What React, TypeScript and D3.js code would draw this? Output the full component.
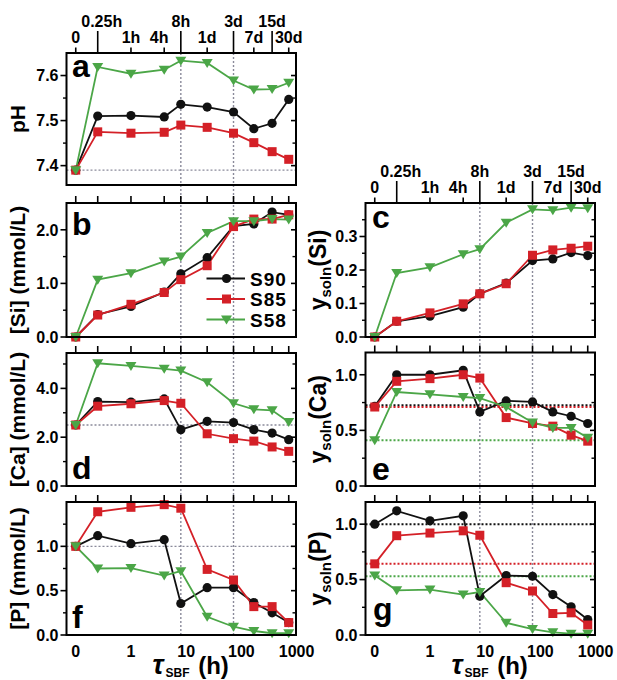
import React from "react";
import * as d3 from "d3";

// ---------- DATA ----------
const TIMES_H = [0, 0.25, 1, 4, 8, 24, 72, 168, 360, 720];
const SERIES_NAMES = ["S90", "S85", "S58"];

const PH_S90 = [7.39, 7.51, 7.511, 7.508, 7.536, 7.53, 7.519, 7.482, 7.494, 7.547];
const PH_S85 = [7.39, 7.475, 7.472, 7.474, 7.49, 7.485, 7.472, 7.451, 7.431, 7.414];
const PH_S58 = [7.39, 7.619, 7.604, 7.613, 7.633, 7.628, 7.589, 7.569, 7.57, 7.584];

const SI_S90 = [0, 0.42, 0.57, 0.84, 1.18, 1.48, 2.07, 2.11, 2.33, 2.28];
const SI_S85 = [0, 0.41, 0.61, 0.83, 1.07, 1.33, 2.06, 2.2, 2.2, 2.28];
const SI_S58 = [0, 1.07, 1.19, 1.41, 1.5, 1.94, 2.16, 2.16, 2.2, 2.19];

const CA_S90 = [2.5, 3.46, 3.44, 3.57, 2.31, 2.65, 2.6, 2.31, 2.17, 1.9];
const CA_S85 = [2.5, 3.27, 3.37, 3.5, 3.39, 2.14, 1.94, 1.84, 1.6, 1.42];
const CA_S58 = [2.5, 5.03, 4.92, 4.8, 4.73, 4.25, 3.39, 3.14, 3.1, 2.62];

const P_S90 = [1.0, 1.12, 1.03, 1.075, 0.355, 0.534, 0.534, 0.366, 0.25, 0.14];
const P_S85 = [1.0, 1.39, 1.44, 1.47, 1.43, 0.74, 0.62, 0.32, 0.32, 0.14];
const P_S58 = [1.0, 0.75, 0.755, 0.67, 0.72, 0.205, 0.093, 0.045, 0.02, 0.02];

const YSI_S90 = [0, 0.047, 0.062, 0.089, 0.129, 0.161, 0.228, 0.233, 0.252, 0.243];
const YSI_S85 = [0, 0.047, 0.072, 0.099, 0.129, 0.159, 0.244, 0.26, 0.265, 0.271];
const YSI_S58 = [0, 0.191, 0.208, 0.247, 0.262, 0.341, 0.381, 0.378, 0.386, 0.384];

const YCA_S90 = [0.717, 1.0, 1.0, 1.04, 0.666, 0.765, 0.756, 0.666, 0.627, 0.562];
const YCA_S85 = [0.71, 0.941, 0.965, 1.0, 0.97, 0.615, 0.562, 0.538, 0.457, 0.403];
const YCA_S58 = [0.412, 0.845, 0.824, 0.8, 0.79, 0.71, 0.571, 0.522, 0.522, 0.433];

const YP_S90 = [1.0, 1.12, 1.03, 1.075, 0.35, 0.537, 0.53, 0.365, 0.254, 0.14];
const YP_S85 = [0.642, 0.896, 0.92, 0.94, 0.9, 0.472, 0.397, 0.194, 0.2, 0.09];
const YP_S58 = [0.537, 0.403, 0.41, 0.365, 0.388, 0.11, 0.054, 0.024, 0.012, 0.012];

const REF_PH = [7.39];
const REF_CA = [2.5];
const REF_P = [1.0];
const REF_YCA = [0.726, 0.71, 0.412];
const REF_YP = [1.0, 0.642, 0.53];

const MARK_TIMES = [8, 72];

const TOP_ROW1 = [
  { t: 0.25, label: "0.25h" },
  { t: 8, label: "8h" },
  { t: 72, label: "3d" },
  { t: 360, label: "15d" },
];
const TOP_ROW2 = [
  { t: 0, label: "0" },
  { t: 1, label: "1h" },
  { t: 4, label: "4h" },
  { t: 24, label: "1d" },
  { t: 168, label: "7d" },
  { t: 720, label: "30d" },
];
const BOTTOM_TICKS = [0, 1, 10, 100, 1000];

// ---------- STYLE ----------
const FONT = "'Liberation Sans', Arial, Helvetica, sans-serif";
const COLORS = ["#111111", "#d42027", "#4ba647"];
const GREY = "#8a8a9a";
const LABEL_DX: Record<string, number> = { "0.25h": 4, "4h": -5 };

const COLS: Record<string, [number, number]> = {
  L: [66.5, 296],
  R: [365.5, 595],
};

const tPos = (t: number) => (t === 0 ? 0.1 : t);

function makeX(col: string) {
  return d3.scaleLog().domain([0.068, 975]).range(COLS[col]);
}

type Panel = {
  key: string;
  col: string;
  y0: number;
  y1: number;
  domain: [number, number];
  major: number[];
  minor: number[];
  series: number[][];
  refs: number[];
  refColored: boolean;
  title: React.ReactNode;
  letter: string;
  letterPos: [number, number];
  topAxis: boolean;
  bottomAxis: boolean;
  legend?: boolean;
};

const PANELS: Panel[] = [
  {
    key: "a", col: "L", y0: 53, y1: 185, domain: [7.357, 7.65],
    major: [7.4, 7.5, 7.6], minor: [7.45, 7.55],
    series: [PH_S90, PH_S85, PH_S58], refs: REF_PH, refColored: false,
    title: "pH", letter: "a", letterPos: [72, 77], topAxis: true, bottomAxis: false,
  },
  {
    key: "b", col: "L", y0: 203, y1: 337, domain: [0, 2.5],
    major: [0, 1, 2], minor: [0.5, 1.5],
    series: [SI_S90, SI_S85, SI_S58], refs: [], refColored: false,
    title: "[Si] (mmol/L)", letter: "b", letterPos: [72, 235], topAxis: false, bottomAxis: false, legend: true,
  },
  {
    key: "d", col: "L", y0: 353, y1: 486, domain: [0, 5.45],
    major: [0, 2, 4], minor: [1, 3, 5],
    series: [CA_S90, CA_S85, CA_S58], refs: REF_CA, refColored: false,
    title: "[Ca] (mmol/L)", letter: "d", letterPos: [72, 479], topAxis: false, bottomAxis: false,
  },
  {
    key: "f", col: "L", y0: 502, y1: 635, domain: [0, 1.5],
    major: [0, 0.5, 1], minor: [0.25, 0.75, 1.25],
    series: [P_S90, P_S85, P_S58], refs: REF_P, refColored: false,
    title: "[P] (mmol/L)", letter: "f", letterPos: [72, 628], topAxis: false, bottomAxis: true,
  },
  {
    key: "c", col: "R", y0: 203, y1: 337, domain: [0, 0.4],
    major: [0, 0.1, 0.2, 0.3], minor: [0.05, 0.15, 0.25, 0.35],
    series: [YSI_S90, YSI_S85, YSI_S58], refs: [], refColored: false,
    title: "Si", letter: "c", letterPos: [372, 228], topAxis: true, bottomAxis: false,
  },
  {
    key: "e", col: "R", y0: 352.5, y1: 486, domain: [0, 1.2],
    major: [0, 0.5, 1], minor: [0.25, 0.75],
    series: [YCA_S90, YCA_S85, YCA_S58], refs: REF_YCA, refColored: true,
    title: "Ca", letter: "e", letterPos: [372, 480], topAxis: false, bottomAxis: false,
  },
  {
    key: "g", col: "R", y0: 502, y1: 635, domain: [0, 1.2],
    major: [0, 0.5, 1], minor: [0.25, 0.75],
    series: [YP_S90, YP_S85, YP_S58], refs: REF_YP, refColored: true,
    title: "P", letter: "g", letterPos: [373, 620], topAxis: false, bottomAxis: true,
  },
];

function Marker({ i, x, y }: { i: number; x: number; y: number }) {
  const c = COLORS[i];
  if (i === 0) return <circle cx={x} cy={y} r={4.6} fill={c} />;
  if (i === 1) return <rect x={x - 4.5} y={y - 4.5} width={9} height={9} fill={c} />;
  return (
    <path
      d={`M${x - 5.5},${y - 4} L${x + 5.5},${y - 4} L${x},${y + 5} Z`}
      fill={c}
    />
  );
}

function PanelView({ p }: { p: Panel }) {
  const x = makeX(p.col);
  const [xl, xr] = COLS[p.col];
  const y = d3.scaleLinear().domain(p.domain).range([p.y1, p.y0]);
  const fmt = d3.format(".1f");
  const line = d3
    .line<number>()
    .x((_, i) => x(tPos(TIMES_H[i])))
    .y((v) => y(v));
  const midY = (p.y0 + p.y1) / 2;
  const isLeft = p.col === "L";

  return (
    <g>
      {p.refs.map((r, i) => (
        <line
          key={"ref" + i}
          x1={xl}
          x2={xr}
          y1={y(r)}
          y2={y(r)}
          stroke={p.refColored ? COLORS[i] : GREY}
          strokeWidth={p.refColored ? 2 : 1.4}
          strokeDasharray="2 2"
        />
      ))}
      {p.series.map((s, i) => (
        <path key={"l" + i} d={line(s) || ""} fill="none" stroke={COLORS[i]} strokeWidth={1.8} />
      ))}
      {p.series.map((s, i) => (
        <g key={"m" + i}>
          {s.map((v, j) => (
            <Marker key={j} i={i} x={x(tPos(TIMES_H[j]))} y={y(v)} />
          ))}
        </g>
      ))}
      <rect x={xl} y={p.y0} width={xr - xl} height={p.y1 - p.y0} fill="none" stroke="#000" strokeWidth={2} />
      {p.major.map((v) => (
        <g key={"mj" + v}>
          <line x1={xl - 6} x2={xl} y1={y(v)} y2={y(v)} stroke="#000" strokeWidth={1.6} />
          <line x1={xr - 5} x2={xr} y1={y(v)} y2={y(v)} stroke="#000" strokeWidth={1.6} />
          <text
            x={xl - 8}
            y={y(v) + 5.8}
            textAnchor="end"
            fontFamily={FONT}
            fontWeight="bold"
            fontSize={16}
          >
            {fmt(v)}
          </text>
        </g>
      ))}
      {p.minor.map((v) => (
        <g key={"mn" + v}>
          <line x1={xl - 3.5} x2={xl} y1={y(v)} y2={y(v)} stroke="#000" strokeWidth={1.4} />
          <line x1={xr - 3.5} x2={xr} y1={y(v)} y2={y(v)} stroke="#000" strokeWidth={1.4} />
        </g>
      ))}
      {p.topAxis ? (
        <g>
          {TOP_ROW1.map((d) => (
            <g key={"r1" + d.label}>
              <line x1={x(tPos(d.t))} x2={x(tPos(d.t))} y1={p.y0} y2={p.y0 - 22} stroke="#000" strokeWidth={1.6} />
              <text
                x={x(tPos(d.t)) + (LABEL_DX[d.label] || 0)}
                y={p.y0 - 26}
                textAnchor="middle"
                fontFamily={FONT}
                fontWeight="bold"
                fontSize={16}
              >
                {d.label}
              </text>
            </g>
          ))}
          {TOP_ROW2.map((d) => (
            <g key={"r2" + d.label}>
              <line x1={x(tPos(d.t))} x2={x(tPos(d.t))} y1={p.y0} y2={p.y0 - 5.5} stroke="#000" strokeWidth={1.6} />
              <text
                x={x(tPos(d.t)) + (LABEL_DX[d.label] || 0)}
                y={p.y0 - 10}
                textAnchor="middle"
                fontFamily={FONT}
                fontWeight="bold"
                fontSize={16}
              >
                {d.label}
              </text>
            </g>
          ))}
        </g>
      ) : (
        <g>
          {TIMES_H.map((t) => (
            <line key={"tt" + t} x1={x(tPos(t))} x2={x(tPos(t))} y1={p.y0} y2={p.y0 - 7} stroke="#000" strokeWidth={1.6} />
          ))}
        </g>
      )}
      {p.bottomAxis && (
        <g>
          {BOTTOM_TICKS.map((t) => (
            <text
              key={"bt" + t}
              x={x(tPos(t))}
              y={656.5}
              textAnchor="middle"
              fontFamily={FONT}
              fontWeight="bold"
              fontSize={16}
            >
              {String(t)}
            </text>
          ))}
          <text x={xl + 86} y={674} fontFamily={FONT} fontWeight="bold" fontSize={24}>
            <tspan fontStyle="italic" fontSize={27}>τ</tspan>
            <tspan fontSize={12} dx={2} dy={3}>SBF</tspan>
            <tspan dx={2} dy={-3}> (h)</tspan>
          </text>
        </g>
      )}
      <text x={p.letterPos[0]} y={p.letterPos[1]} fontFamily={FONT} fontWeight="bold" fontSize={32}>
        {p.letter}
      </text>
      {isLeft ? (
        <text
          transform={`translate(25,${midY}) rotate(-90)`}
          textAnchor="middle"
          fontFamily={FONT}
          fontWeight="bold"
          fontSize={21}
        >
          {p.title}
        </text>
      ) : (
        <text
          transform={`translate(326,${midY}) rotate(-90)`}
          textAnchor="middle"
          fontFamily={FONT}
          fontWeight="bold"
          fontSize={23}
        >
          <tspan>y</tspan>
          <tspan fontSize={15} dy={5}>soln</tspan>
          <tspan dy={-5}>({p.title})</tspan>
        </text>
      )}
      {p.legend &&
        SERIES_NAMES.map((name, i) => {
          const ly = 278.5 + i * 20.5;
          return (
            <g key={"lg" + name}>
              <line x1={206.5} x2={245} y1={ly} y2={ly} stroke={COLORS[i]} strokeWidth={1.8} />
              <Marker i={i} x={226.5} y={ly} />
              <text x={250} y={ly + 7} fontFamily={FONT} fontWeight="bold" fontSize={19} letterSpacing={1}>
                {name}
              </text>
            </g>
          );
        })}
    </g>
  );
}

export default function App() {
  const xL = makeX("L");
  const xR = makeX("R");
  return (
    <svg width={617} height={680} style={{ display: "block", position: "absolute", left: 0, top: 0 }}>
      <rect width={617} height={680} fill="#fff" />
      {MARK_TIMES.map((t) => (
        <g key={"v" + t}>
          <line x1={xL(t)} x2={xL(t)} y1={53} y2={635} stroke={GREY} strokeWidth={1.4} strokeDasharray="2 2" />
          <line x1={xR(t)} x2={xR(t)} y1={203} y2={635} stroke={GREY} strokeWidth={1.4} strokeDasharray="2 2" />
        </g>
      ))}
      {PANELS.map((p) => (
        <PanelView key={p.key} p={p} />
      ))}
    </svg>
  );
}
